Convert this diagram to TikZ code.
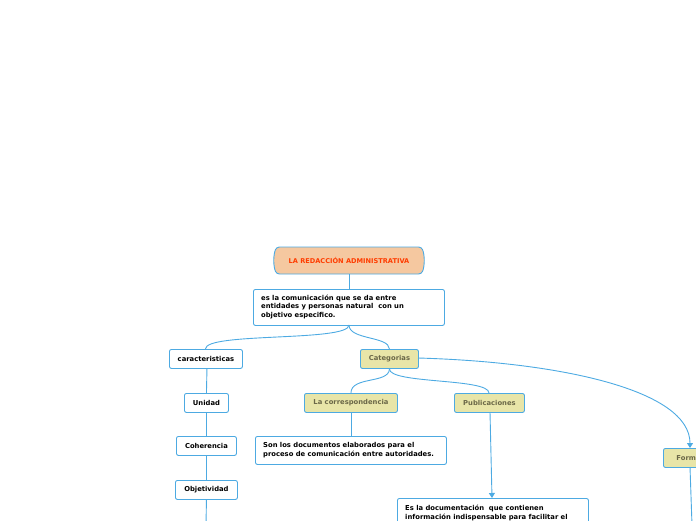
\documentclass[tikz,border=0pt]{standalone}
\usepackage{fontspec}
\setmainfont{DejaVu Sans}
\usetikzlibrary{shapes.misc,arrows.meta}
\definecolor{lblue}{HTML}{4DAAE2}
\definecolor{khaki}{HTML}{E8E5A8}
\definecolor{khtext}{HTML}{6B6848}
\definecolor{peach}{HTML}{F5C8A0}
\definecolor{titred}{HTML}{FF3C00}
\begin{document}
\begin{tikzpicture}[x=1pt,y=-1pt,
  base/.style={draw=lblue,line width=0.9pt,rounded corners=2pt,font=\fontsize{6.8}{9}\selectfont\bfseries,inner sep=0pt,anchor=north west},
  wbox/.style={base,fill=white,text=black,align=center},
  kbox/.style={base,fill=khaki,text=khtext,align=center},
  tbox/.style={base,fill=white,text=black,align=left,text width=#1,inner xsep=8pt,inner ysep=0pt},
  ttext/.style={anchor=north west,align=left,font=\fontsize{6.8}{8.7}\selectfont\bfseries,inner sep=0pt},
  conn/.style={draw=lblue,line width=0.9pt},
  arr/.style={conn,-{Triangle[length=5pt,width=6pt]}}]
\useasboundingbox (0,0) rectangle (696,520);
\clip (0,0) rectangle (696,520);
% title
\node[draw=lblue,line width=0.9pt,fill=peach,text=titred,font=\fontsize{6.6}{8}\selectfont\bfseries,
  rounded rectangle,rounded rectangle arc length=40,rounded corners=3pt,minimum width=150pt,minimum height=27pt,inner sep=0pt] (title) at (349,260.5) {LA REDACCIÓN ADMINISTRATIVA};
\node[tbox=175pt,minimum height=36pt] (def) at (253,289) {};
\node[ttext] (deft) at (261,294.5) {es la comunicación que se da entre\\entidades y personas natural\ \ con un\\objetivo especifico.};
\node[wbox,minimum width=73pt,minimum height=19pt] (car) at (169,349) {caracteristicas};
\node[kbox,minimum width=58pt,minimum height=19pt] (cat) at (360,349) {Categorias};
\node[wbox,minimum width=44pt,minimum height=19pt] (uni) at (184,393) {Unidad};
\node[wbox,minimum width=60pt,minimum height=19pt] (coh) at (176,436) {Coherencia};
\node[wbox,minimum width=62pt,minimum height=19pt] (obj) at (175,480) {Objetividad};
\node[kbox,minimum width=93pt,minimum height=19pt] (cor) at (304,393) {La correspondencia};
\node[kbox,minimum width=70pt,minimum height=19pt] (pub) at (454,393) {Publicaciones};
\node[base,fill=white,minimum width=191pt,minimum height=28pt] (son) at (255,436) {};
\node[ttext] (sont) at (263,442.5) {Son los documentos elaborados para el\\proceso de comunicación entre autoridades.};
\node[base,fill=white,minimum width=191pt,minimum height=40pt] (es) at (397,498) {};
\node[ttext] (est) at (405,505) {Es la documentación\ \ que contienen\\información indispensable para facilitar el};
\node[kbox,minimum width=60pt,minimum height=19pt,align=left,text width=50pt,inner xsep=0pt] (for) at (663,448) {\hspace*{8pt}Formato};
\coordinate (defb) at (349,325);
\coordinate (objend) at (206,525);
\coordinate (forend) at (692,525);
% connectors
\draw[conn] (title.south) -- (title.south |- def.north);
\draw[conn] (defb) .. controls (349,342) and (205,332) .. ([xshift=-0.5pt]car.north);
\draw[conn] (defb) .. controls (349,340) and (389,336) .. (cat.north);
\draw[conn] ([xshift=1pt]car.south) -- ([xshift=0pt]uni.north);
\draw[conn] (uni.south) -- (coh.south |- coh.north);
\draw[conn] (coh.south) -- (obj.south |- obj.north);
\draw[conn] (obj.south) -- (objend);
\draw[conn] (cat.south) .. controls (389,384) and (351,376) .. (cor.north);
\draw[conn] (cat.south) .. controls (389,384) and (489,378) .. (489,393);
\draw[conn] (351,412) -- (351,436);
\draw[arr] (490,412) -- (492,498);
\draw[arr] (418,358) .. controls (560,362) and (690,390) .. (690,448);
\draw[conn] (690,467) -- (forend);
\end{tikzpicture}
\end{document}
